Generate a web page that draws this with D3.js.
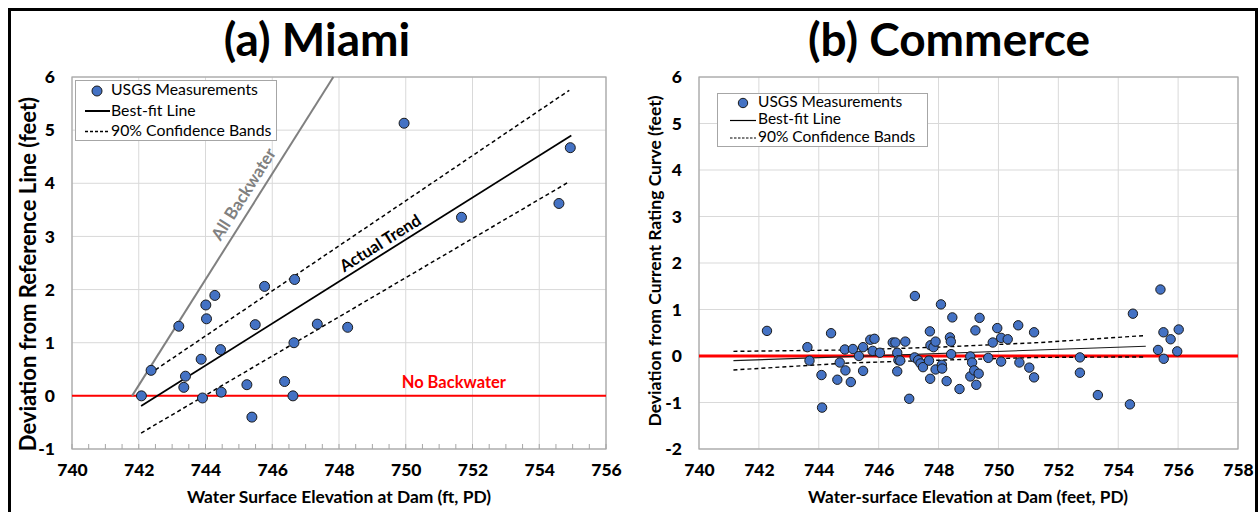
<!DOCTYPE html>
<html>
<head>
<meta charset="utf-8">
<script src="https://cdn.jsdelivr.net/npm/d3@7"></script>
<style>
  html, body { margin: 0; padding: 0; background: #fff; }
  svg { display: block; font-family: Lato, "Open Sans", sans-serif; }
</style>
</head>
<body>
<svg id="chart" width="1259" height="512"></svg>
<script>
// ---------------- DATA ----------------
const titles = ["(a) Miami", "(b) Commerce"];
const legendLabels = ["USGS Measurements", "Best-fit Line", "90% Confidence Bands"];

// Miami measurements
const miamiX = [742.08, 742.37, 743.2, 744.01, 744.28, 744.03, 743.4, 743.35, 743.87, 743.91,
                744.45, 744.47, 745.24, 745.39, 745.49, 745.77, 746.37, 746.62, 746.65, 746.67,
                747.35, 748.26, 749.95, 751.67, 754.59, 754.93];
const miamiY = [0.0, 0.48, 1.31, 1.71, 1.89, 1.45, 0.37, 0.16, 0.69, -0.04,
                0.87, 0.07, 0.21, -0.40, 1.34, 2.06, 0.27, 0.0, 1.0, 2.19,
                1.35, 1.29, 5.13, 3.36, 3.62, 4.67];
const miamiFitX = [742.07, 754.96];
const miamiFitY = [-0.19, 4.9];
const miamiUpperX = [742.5, 754.9];
const miamiUpperY = [0.49, 5.75];
const miamiLowerX = [742.07, 754.9];
const miamiLowerY = [-0.70, 4.03];
const allBackwaterX = [741.8, 747.83];
const allBackwaterY = [0, 6];

// Commerce measurements
const commerceX = [742.27, 743.62, 743.69, 744.09, 744.11, 744.41, 744.62, 744.7, 744.89, 744.87,
                   745.07, 745.14, 745.34, 745.48, 745.48, 745.72, 745.86, 745.8, 746.04, 746.47,
                   746.56, 746.62, 746.62, 746.66, 746.72, 746.89, 747.02, 747.21, 747.2, 747.32,
                   747.4, 747.48, 747.68, 747.71, 747.72, 747.73, 747.83, 747.9, 747.9, 748.08,
                   748.11, 748.12, 748.27, 748.38, 748.41, 748.42, 748.46, 748.7, 749.06, 749.12,
                   749.06, 749.19, 749.26, 749.34, 749.23, 749.37, 749.66, 749.81, 749.96, 750.09,
                   750.31, 750.09, 750.66, 750.7, 751.03, 751.19, 751.19, 752.72, 752.72, 753.32,
                   754.39, 754.49, 755.41, 755.33, 755.51, 755.52, 755.75, 756.02, 755.97];
const commerceY = [0.54, 0.19, -0.1, -0.41, -1.11, 0.49, -0.51, -0.14, -0.31, 0.14,
                   -0.56, 0.15, 0.0, 0.19, -0.32, 0.35, 0.37, 0.11, 0.07, 0.29,
                   0.29, 0.07, -0.33, -0.09, -0.1, 0.31, -0.92, 1.29, -0.03, -0.09,
                   -0.16, -0.24, -0.1, 0.53, -0.49, 0.23, 0.19, 0.31, -0.29, 1.11,
                   -0.19, -0.27, -0.54, 0.40, 0.31, 0.04, 0.83, -0.71, -0.01, -0.14,
                   -0.44, -0.31, -0.62, -0.38, 0.55, 0.82, -0.04, 0.29, 0.6, 0.39,
                   0.36, -0.12, 0.66, -0.14, -0.25, 0.51, -0.46, -0.03, -0.36, -0.84,
                   -1.04, 0.91, 1.43, 0.13, 0.51, -0.06, 0.36, 0.57, 0.1];
const commerceFitX = [741.15, 754.92];
const commerceFitY = [-0.1, 0.21];
const commerceUpperX = [741.15, 745, 748, 751.4, 754.9];
const commerceUpperY = [0.10, 0.13, 0.19, 0.29, 0.44];
const commerceLowerX = [741.15, 745, 748, 751.4, 754.9];
const commerceLowerY = [-0.30, -0.15, -0.09, -0.03, -0.02];

// Tick values
const miamiXTicks = [740, 742, 744, 746, 748, 750, 752, 754, 756];
const miamiYTicks = [-1, 0, 1, 2, 3, 4, 5, 6];
const commerceXTicks = [740, 742, 744, 746, 748, 750, 752, 754, 756, 758];
const commerceYTicks = [-2, -1, 0, 1, 2, 3, 4, 5, 6];

// ---------------- DRAW ----------------
const svg = d3.select("#chart");
const zip = (xs, ys) => xs.map((x, i) => [x, ys[i]]);
const fmt = d => String(d);

// outer frame
svg.append("rect").attr("x", 9.5).attr("y", 9.5).attr("width", 1247).attr("height", 530)
  .attr("fill", "none").attr("stroke", "#000").attr("stroke-width", 3);

function panel(opts) {
  const g = svg.append("g");
  const x = d3.scaleLinear().domain(opts.xDomain).range([opts.left, opts.right]);
  const y = d3.scaleLinear().domain(opts.yDomain).range([opts.bottom, opts.top]);

  // gridlines
  g.append("g").selectAll("line").data(opts.xTicks).join("line")
    .attr("x1", d => x(d)).attr("x2", d => x(d)).attr("y1", opts.top).attr("y2", opts.bottom)
    .attr("stroke", "#d9d9d9").attr("stroke-width", 1);
  g.append("g").selectAll("line").data(opts.yTicks).join("line")
    .attr("x1", opts.left).attr("x2", opts.right).attr("y1", d => y(d)).attr("y2", d => y(d))
    .attr("stroke", "#d9d9d9").attr("stroke-width", 1);

  // plot border
  g.append("rect").attr("x", opts.left).attr("y", opts.top)
    .attr("width", opts.right - opts.left).attr("height", opts.bottom - opts.top)
    .attr("fill", "none").attr("stroke", "#a6a6a6").attr("stroke-width", 1.2);

  // minor ticks
  if (opts.minorTicks) {
    const minors = d3.range(opts.xDomain[0], opts.xDomain[1] + 0.01, 0.5);
    g.append("g").selectAll("line").data(minors).join("line")
      .attr("x1", d => x(d)).attr("x2", d => x(d)).attr("y1", opts.bottom).attr("y2", opts.bottom - 5)
      .attr("stroke", "#a6a6a6").attr("stroke-width", 1);
  }

  // axes (labels only)
  const xAxis = d3.axisBottom(x).tickValues(opts.xTicks).tickSize(0).tickPadding(15).tickFormat(fmt);
  const xa = g.append("g").attr("transform", `translate(0,${opts.bottom})`).call(xAxis);
  xa.select(".domain").remove();
  xa.selectAll("text").attr("font-size", 17.5).attr("font-weight", "900").attr("fill", "#000")
    .attr("font-family", "Lato, sans-serif");

  const yAxis = d3.axisLeft(y).tickValues(opts.yTicks).tickSize(0).tickPadding(opts.yPad).tickFormat(fmt);
  const ya = g.append("g").attr("transform", `translate(${opts.left},0)`).call(yAxis);
  ya.select(".domain").remove();
  ya.selectAll("text").attr("font-size", 17.5).attr("font-weight", "900").attr("fill", "#000")
    .attr("font-family", "Lato, sans-serif");

  // titles
  g.append("text").attr("x", opts.titleX).attr("y", 56).attr("text-anchor", "middle")
    .attr("font-size", 46).attr("font-weight", "bold").text(opts.title);
  g.append("text").attr("x", opts.xLabelX).attr("y", 503).attr("text-anchor", "middle")
    .attr("font-size", opts.xLabelSize).attr("font-weight", "bold").text(opts.xLabel);
  g.append("text").attr("transform", `translate(${opts.yLabelX},${opts.yLabelY}) rotate(-90)`)
    .attr("text-anchor", "middle").attr("font-size", opts.yLabelSize).attr("font-weight", "bold").text(opts.yLabel);

  return { g, x, y };
}

const line = (x, y) => d3.line().x(d => x(d[0])).y(d => y(d[1]));

// ---- Panel (a) Miami ----
{
  const { g, x, y } = panel({
    left: 72, right: 606, top: 77, bottom: 449,
    xDomain: [740, 756], yDomain: [-1, 6],
    xTicks: miamiXTicks, yTicks: miamiYTicks, minorTicks: true, yPad: 17,
    title: titles[0], titleX: 317,
    xLabel: "Water Surface Elevation at Dam (ft, PD)", xLabelX: 339, xLabelSize: 17.4,
    yLabel: "Deviation from Reference Line (feet)", yLabelX: 36, yLabelY: 274, yLabelSize: 22
  });
  const L = line(x, y);
  // no backwater line
  g.append("line").attr("x1", x(740)).attr("x2", x(756)).attr("y1", y(0)).attr("y2", y(0))
    .attr("stroke", "#ff0000").attr("stroke-width", 2);
  g.append("path").attr("d", L(zip(allBackwaterX, allBackwaterY))).attr("fill", "none")
    .attr("stroke", "#808080").attr("stroke-width", 2);
  g.append("path").attr("d", L(zip(miamiUpperX, miamiUpperY))).attr("fill", "none")
    .attr("stroke", "#000").attr("stroke-width", 1.5).attr("stroke-dasharray", "4,3");
  g.append("path").attr("d", L(zip(miamiLowerX, miamiLowerY))).attr("fill", "none")
    .attr("stroke", "#000").attr("stroke-width", 1.5).attr("stroke-dasharray", "4,3");
  g.append("path").attr("d", L(zip(miamiFitX, miamiFitY))).attr("fill", "none")
    .attr("stroke", "#000").attr("stroke-width", 1.8);
  g.append("g").selectAll("circle").data(zip(miamiX, miamiY)).join("circle")
    .attr("cx", d => x(d[0])).attr("cy", d => y(d[1])).attr("r", 5)
    .attr("fill", "#4472c4").attr("stroke", "#1a1a1a").attr("stroke-width", 1);

  // annotations
  const ab = Math.atan2(y(0) - y(6), x(747.83) - x(741.8)) * 180 / Math.PI;
  g.append("text").attr("transform", `translate(${x(745.18)},${y(3.78)}) rotate(${-ab})`)
    .attr("text-anchor", "middle").attr("dominant-baseline", "middle")
    .attr("font-size", 17).attr("font-weight", "bold").attr("fill", "#808080").text("All Backwater");
  const at = Math.atan2(y(-0.19) - y(4.9), x(754.96) - x(742.07)) * 180 / Math.PI;
  g.append("text").attr("transform", `translate(${x(749.26)},${y(2.85)}) rotate(${-at})`)
    .attr("text-anchor", "middle").attr("dominant-baseline", "middle")
    .attr("font-size", 16.5).attr("font-weight", "bold").attr("fill", "#000").text("Actual Trend");
  g.append("text").attr("x", x(751.44)).attr("y", y(0.22)).attr("text-anchor", "middle")
    .attr("dominant-baseline", "middle")
    .attr("font-size", 16.5).attr("font-weight", "bold").attr("fill", "#ff0000").text("No Backwater");

  // legend
  const lg = g.append("g");
  lg.append("rect").attr("x", 75.5).attr("y", 80.5).attr("width", 201).attr("height", 60)
    .attr("fill", "#fff").attr("stroke", "#a6a6a6").attr("stroke-width", 1);
  lg.append("circle").attr("cx", 97).attr("cy", 91).attr("r", 5)
    .attr("fill", "#4472c4").attr("stroke", "#1a1a1a").attr("stroke-width", 1);
  lg.append("line").attr("x1", 85).attr("x2", 110).attr("y1", 111).attr("y2", 111)
    .attr("stroke", "#000").attr("stroke-width", 2);
  lg.append("line").attr("x1", 85).attr("x2", 110).attr("y1", 131.5).attr("y2", 131.5)
    .attr("stroke", "#000").attr("stroke-width", 1.5).attr("stroke-dasharray", "3,2");
  lg.selectAll("text").data(legendLabels).join("text")
    .attr("x", 111).attr("y", (d, i) => 91 + i * 20.5).attr("dominant-baseline", "middle")
    .attr("font-size", 15.8).attr("fill", "#000").text(d => d);
}

// ---- Panel (b) Commerce ----
{
  const { g, x, y } = panel({
    left: 699, right: 1238, top: 77, bottom: 449,
    xDomain: [740, 758], yDomain: [-2, 6],
    xTicks: commerceXTicks, yTicks: commerceYTicks, minorTicks: false, yPad: 17,
    title: titles[1], titleX: 949,
    xLabel: "Water-surface Elevation at Dam (feet, PD)", xLabelX: 968, xLabelSize: 17.2,
    yLabel: "Deviation from Current Rating Curve (feet)", yLabelX: 661, yLabelY: 261, yLabelSize: 17.5
  });
  const L = line(x, y);
  g.append("line").attr("x1", x(740)).attr("x2", x(758)).attr("y1", y(0)).attr("y2", y(0))
    .attr("stroke", "#ff0000").attr("stroke-width", 3);
  g.append("path").attr("d", L(zip(commerceUpperX, commerceUpperY))).attr("fill", "none")
    .attr("stroke", "#000").attr("stroke-width", 1.4).attr("stroke-dasharray", "4,3");
  g.append("path").attr("d", L(zip(commerceLowerX, commerceLowerY))).attr("fill", "none")
    .attr("stroke", "#000").attr("stroke-width", 1.4).attr("stroke-dasharray", "4,3");
  g.append("path").attr("d", L(zip(commerceFitX, commerceFitY))).attr("fill", "none")
    .attr("stroke", "#1a1a1a").attr("stroke-width", 1.1);
  g.append("g").selectAll("circle").data(zip(commerceX, commerceY)).join("circle")
    .attr("cx", d => x(d[0])).attr("cy", d => y(d[1])).attr("r", 4.7)
    .attr("fill", "#4472c4").attr("stroke", "#1a1a1a").attr("stroke-width", 1);

  const lg = g.append("g");
  lg.append("rect").attr("x", 717.5).attr("y", 93.5).attr("width", 210).attr("height", 53)
    .attr("fill", "#fff").attr("stroke", "#a6a6a6").attr("stroke-width", 1);
  lg.append("circle").attr("cx", 743).attr("cy", 103).attr("r", 4.7)
    .attr("fill", "#4472c4").attr("stroke", "#1a1a1a").attr("stroke-width", 1);
  lg.append("line").attr("x1", 730).attr("x2", 756).attr("y1", 120.5).attr("y2", 120.5)
    .attr("stroke", "#000").attr("stroke-width", 1.2);
  lg.append("line").attr("x1", 730).attr("x2", 756).attr("y1", 138).attr("y2", 138)
    .attr("stroke", "#000").attr("stroke-width", 1.2).attr("stroke-dasharray", "2.5,1.5");
  lg.selectAll("text").data(legendLabels).join("text")
    .attr("x", 758).attr("y", (d, i) => 103 + i * 17.5).attr("dominant-baseline", "middle")
    .attr("font-size", 15.5).attr("fill", "#000").text(d => d);
}
</script>
</body>
</html>
